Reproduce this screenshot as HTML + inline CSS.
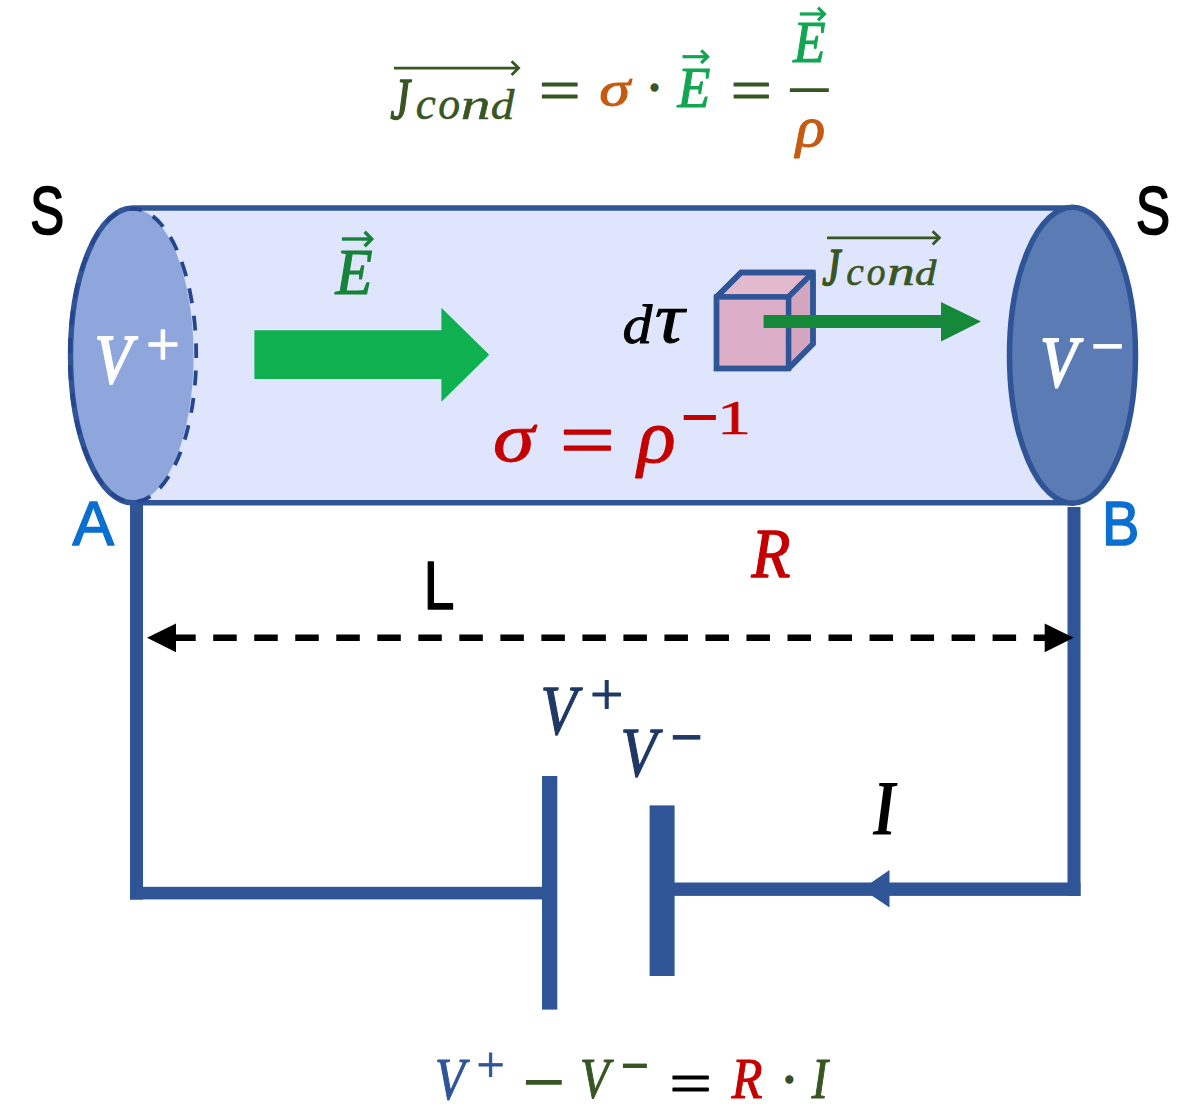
<!DOCTYPE html>
<html lang="en">
<head>
<meta charset="utf-8">
<title>Conduction current density in a cylindrical conductor</title>
<style>
html,body{margin:0;padding:0;background:#ffffff;}
body{width:1200px;height:1113px;overflow:hidden;}
svg{display:block;}
.ser{font-family:"Liberation Serif","DejaVu Serif",serif;}
.san{font-family:"Liberation Sans","DejaVu Sans",sans-serif;}
</style>
</head>
<body>
<svg width="1200" height="1113" viewBox="0 0 1200 1113">
<rect x="0" y="0" width="1200" height="1113" fill="#ffffff"/>
<!-- ===== cylinder ===== -->
<g id="cylinder">
  <rect x="132" y="208" width="941" height="295" fill="#dfe5fc"/>
  <!-- left cap (V+) -->
  <ellipse cx="132" cy="355.4" rx="61.6" ry="147" fill="#8fa6dc"/>
  <!-- can outline: top generatrix, left rim, bottom generatrix -->
  <path d="M1075 208 H132.5 A62 147.4 0 0 0 132.5 502.8 H1075" fill="none" stroke="#2f5597" stroke-width="5.4"/>
  <!-- hidden (dashed) rim of the left cap -->
  <path d="M133 208.8 A63.2 146.6 0 0 1 133 502 A63.2 146.6 0 0 1 133 208.8" fill="none" stroke="#25468e" stroke-width="3.8" stroke-dasharray="14.8 12.7" stroke-dashoffset="-21.5"/>
  <!-- right cap (V-) -->
  <ellipse cx="1072.5" cy="355.2" rx="63" ry="148" fill="#5b7bb5" stroke="#2f5597" stroke-width="5.5"/>
</g>

<!-- ===== circuit wires and battery ===== -->
<g id="wires" fill="#2f5597">
  <rect x="130" y="503" width="13" height="396.6"/>
  <rect x="130" y="886.8" width="414" height="12.6"/>
  <rect x="1067.5" y="507" width="13" height="388.9"/>
  <rect x="672" y="882.5" width="408.5" height="13.4"/>
  <polygon points="862,889 889.5,870 889.5,907.5"/>
  <rect x="542" y="776" width="15.3" height="233.6"/>
  <rect x="649.6" y="805.4" width="25" height="170.6"/>
</g>

<!-- ===== dashed length arrow L ===== -->
<g id="lenarrow">
  <line x1="172.2" y1="637.8" x2="1050" y2="637.8" stroke="#000" stroke-width="6.4" stroke-dasharray="23.5 17.52"/>
  <polygon points="147,637.8 176,623.5 176,652.2" fill="#000"/>
  <polygon points="1073.7,637.8 1044.7,623.5 1044.7,652.2" fill="#000"/>
</g>

<!-- ===== big E field arrow ===== -->
<polygon points="254.4,330.3 441.4,330.3 441.4,307.7 489.2,354.7 441.4,401.8 441.4,379.1 254.4,379.1" fill="#0eb050"/>

<!-- ===== volume element cube ===== -->
<g id="cube" stroke="#2f5597" stroke-width="5.4" stroke-linejoin="miter" stroke-miterlimit="1.5">
  <polygon points="716.5,297 741,272.5 813,272.5 788.5,297" fill="#e3b9ce"/>
  <polygon points="788.5,297 813,272.5 813,344 788.5,368.5" fill="#d3a5bf"/>
  <rect x="716.5" y="297" width="72" height="71.5" fill="#dcaec7"/>
  <polygon points="716.5,297 741,272.5 813,272.5 813,344 788.5,368.5 716.5,368.5" fill="none" stroke-miterlimit="4"/>
</g>

<!-- ===== J current-density arrow ===== -->
<polygon points="763.6,315 941,315 941,302 981,321.6 941,341.6 941,328 763.6,328" fill="#16883a"/>

<!-- ===== vector over-arrows and fraction bar ===== -->
<g id="overarrows" fill="none" stroke-width="2.8" stroke-linecap="butt" stroke-linejoin="miter">
  <g stroke="#375623">
    <path d="M394 68.1 H518"/><path d="M511.6 61.2 L518.6 68.1 L511.6 75"/>
    <path d="M827 237.8 H939"/><path d="M932.6 231.2 L939.4 237.8 L932.6 244.4"/>
    <path d="M789.9 90.1 H828.8" stroke-width="3.8"/>
  </g>
  <g stroke="#12a652" stroke-width="3.2">
    <path d="M682.5 56.7 H707.5"/><path d="M701.2 50.4 L707.6 56.7 L701.2 63"/>
    <path d="M799.8 14 H824.3"/><path d="M818 7.7 L824.4 14 L818 20.3"/>
  </g>
  <g stroke="#17833a" stroke-width="3.4">
    <path d="M341.9 239 H371.5"/><path d="M364.6 231.7 L371.7 239 L364.6 246.3"/>
  </g>
</g>

<!-- ===== text labels (real text, fitted with transforms) ===== -->
<g id="labels">
<text id="t_J" class="ser" transform="matrix(0.4419 0 0 0.5826 390.15 118.94)" font-size="100" font-style="italic" font-weight="normal" fill="#375623" stroke="#375623" stroke-width="2.54" stroke-linejoin="round">J</text>
<text id="t_eq1" class="ser" transform="matrix(0.7428 0 0 0.6074 538.73 111.05)" font-size="100" font-style="normal" font-weight="normal" fill="#375623" stroke="#375623" stroke-width="1.67" stroke-linejoin="round">=</text>
<text id="t_sig1" class="ser" transform="matrix(0.6253 0 0 0.5074 599.35 105.85)" font-size="100" font-style="italic" font-weight="normal" fill="#c55a11" stroke="#c55a11" stroke-width="1.77" stroke-linejoin="round">σ</text>
<text id="t_dot1" class="ser" transform="matrix(0.4050 0 0 0.4169 647.70 101.83)" font-size="100" font-style="normal" font-weight="bold" fill="#375623" stroke="#375623" stroke-width="3.65" stroke-linejoin="round">·</text>
<text id="t_E1" class="ser" transform="matrix(0.5374 0 0 0.5808 677.57 107.22)" font-size="100" font-style="italic" font-weight="normal" fill="#12a652" stroke="#12a652" stroke-width="1.97" stroke-linejoin="round">E</text>
<text id="t_eq2" class="ser" transform="matrix(0.7345 0 0 0.6111 730.56 111.02)" font-size="100" font-style="normal" font-weight="normal" fill="#375623" stroke="#375623" stroke-width="1.67" stroke-linejoin="round">=</text>
<text id="t_E2" class="ser" transform="matrix(0.5278 0 0 0.5911 793.16 62.31)" font-size="100" font-style="italic" font-weight="normal" fill="#12a652" stroke="#12a652" stroke-width="1.97" stroke-linejoin="round">E</text>
<text id="t_rho1" class="ser" transform="matrix(0.6143 0 0 0.5729 795.75 145.51)" font-size="100" font-style="italic" font-weight="normal" fill="#c55a11" stroke="#c55a11" stroke-width="1.68" stroke-linejoin="round">ρ</text>
<text id="S_l" class="san" transform="matrix(0.5150 0 0 0.6904 30.08 234.02)" font-size="100" font-style="normal" font-weight="normal" fill="#000000" stroke="#000000" stroke-width="2.32" stroke-linejoin="round">S</text>
<text id="S_r" class="san" transform="matrix(0.5167 0 0 0.6904 1135.78 234.02)" font-size="100" font-style="normal" font-weight="normal" fill="#000000" stroke="#000000" stroke-width="2.32" stroke-linejoin="round">S</text>
<text id="Vp_w" class="ser" transform="matrix(0.6044 0 0 0.7043 94.78 383.39)" font-size="100" font-style="italic" font-weight="normal" fill="#ffffff" stroke="#ffffff" stroke-width="3.06" stroke-linejoin="round">V</text>
<text id="pl_w" class="ser" transform="matrix(0.5918 0 0 0.6020 146.33 364.72)" font-size="100" font-style="normal" font-weight="normal" fill="#ffffff" stroke="#ffffff" stroke-width="2.51" stroke-linejoin="round">+</text>
<text id="Vm_w" class="ser" transform="matrix(0.6044 0 0 0.7171 1040.28 385.85)" font-size="100" font-style="italic" font-weight="normal" fill="#ffffff" stroke="#ffffff" stroke-width="3.03" stroke-linejoin="round">V</text>
<text id="mi_w" class="ser" transform="matrix(0.6107 0 0 0.9200 1090.45 377.21)" font-size="100" font-style="normal" font-weight="normal" fill="#ffffff">−</text>
<text id="E_c" class="ser" transform="matrix(0.6064 0 0 0.6520 335.61 293.75)" font-size="100" font-style="italic" font-weight="normal" fill="#17833a" stroke="#17833a" stroke-width="1.91" stroke-linejoin="round">E</text>
<text id="d_" class="ser" transform="matrix(0.5959 0 0 0.5417 622.61 343.10)" font-size="100" font-style="italic" font-weight="normal" fill="#000000" stroke="#000000" stroke-width="1.58" stroke-linejoin="round">d</text>
<text id="tau" class="ser" transform="matrix(0.8230 0 0 0.7159 654.63 342.41)" font-size="100" font-style="italic" font-weight="normal" fill="#000000" stroke="#000000" stroke-width="1.17" stroke-linejoin="round">τ</text>
<text id="c_J" class="ser" transform="matrix(0.4060 0 0 0.5325 822.30 284.88)" font-size="100" font-style="italic" font-weight="normal" fill="#375623" stroke="#375623" stroke-width="3.20" stroke-linejoin="round">J</text>
<text id="sig2" class="ser" transform="matrix(0.8388 0 0 0.6944 493.04 461.34)" font-size="100" font-style="italic" font-weight="normal" fill="#c40000" stroke="#c40000" stroke-width="1.30" stroke-linejoin="round">σ</text>
<text id="eq3" class="ser" transform="matrix(0.9786 0 0 0.7778 559.79 465.80)" font-size="100" font-style="normal" font-weight="normal" fill="#c40000" stroke="#c40000" stroke-width="1.67" stroke-linejoin="round">=</text>
<text id="rho2" class="ser" transform="matrix(0.7952 0 0 0.7565 637.39 462.06)" font-size="100" font-style="italic" font-weight="normal" fill="#c40000" stroke="#c40000" stroke-width="1.29" stroke-linejoin="round">ρ</text>
<text id="min2" class="ser" transform="matrix(0.6921 0 0 1.0000 680.24 451.27)" font-size="100" font-style="normal" font-weight="normal" fill="#c40000">−</text>
<text id="one" class="ser" transform="matrix(0.6818 0 0 0.4827 717.05 434.18)" font-size="100" font-style="normal" font-weight="normal" fill="#c40000" stroke="#c40000" stroke-width="1.37" stroke-linejoin="round">1</text>
<text id="A" class="san" transform="matrix(0.6233 0 0 0.6379 72.62 544.65)" font-size="100" font-style="normal" font-weight="normal" fill="#0a6fd0" stroke="#0a6fd0" stroke-width="2.38" stroke-linejoin="round">A</text>
<text id="B" class="san" transform="matrix(0.5605 0 0 0.6280 1102.08 544.66)" font-size="100" font-style="normal" font-weight="normal" fill="#0a6fd0" stroke="#0a6fd0" stroke-width="2.52" stroke-linejoin="round">B</text>
<text id="L" class="san" transform="matrix(0.5504 0 0 0.6855 423.65 608.99)" font-size="100" font-style="normal" font-weight="normal" fill="#000000" stroke="#000000" stroke-width="2.27" stroke-linejoin="round">L</text>
<text id="R" class="ser" transform="matrix(0.6373 0 0 0.7054 751.55 577.29)" font-size="100" font-style="italic" font-weight="normal" fill="#c40000" stroke="#c40000" stroke-width="1.79" stroke-linejoin="round">R</text>
<text id="Vp_b" class="ser" transform="matrix(0.5941 0 0 0.7078 540.43 733.95)" font-size="100" font-style="italic" font-weight="normal" fill="#1f3864" stroke="#1f3864" stroke-width="1.84" stroke-linejoin="round">V</text>
<text id="pl_b" class="ser" transform="matrix(0.5917 0 0 0.5876 590.03 714.29)" font-size="100" font-style="normal" font-weight="normal" fill="#1f3864" stroke="#1f3864" stroke-width="1.70" stroke-linejoin="round">+</text>
<text id="Vm_b" class="ser" transform="matrix(0.5941 0 0 0.6990 620.43 776.37)" font-size="100" font-style="italic" font-weight="normal" fill="#1f3864" stroke="#1f3864" stroke-width="1.86" stroke-linejoin="round">V</text>
<text id="mi_b" class="ser" transform="matrix(0.5914 0 0 0.9200 670.04 768.11)" font-size="100" font-style="normal" font-weight="normal" fill="#1f3864">−</text>
<text id="I" class="ser" transform="matrix(0.5836 0 0 0.7858 873.28 834.20)" font-size="100" font-style="italic" font-weight="bold" fill="#000000">I</text>
<text id="b_V1" class="ser" transform="matrix(0.4901 0 0 0.5825 434.88 1098.64)" font-size="100" font-style="italic" font-weight="normal" fill="#2f5597" stroke="#2f5597" stroke-width="1.86" stroke-linejoin="round">V</text>
<text id="b_pl" class="ser" transform="matrix(0.5000 0 0 0.4966 476.43 1082.47)" font-size="100" font-style="normal" font-weight="normal" fill="#2f5597" stroke="#2f5597" stroke-width="1.61" stroke-linejoin="round">+</text>
<text id="b_mi" class="ser" transform="matrix(0.7714 0 0 0.9200 522.14 1112.91)" font-size="100" font-style="normal" font-weight="normal" fill="#375623">−</text>
<text id="b_V2" class="ser" transform="matrix(0.4752 0 0 0.5797 579.94 1098.45)" font-size="100" font-style="italic" font-weight="normal" fill="#375623" stroke="#375623" stroke-width="1.90" stroke-linejoin="round">V</text>
<text id="b_ms" class="ser" transform="matrix(0.5143 0 0 0.8800 620.43 1095.19)" font-size="100" font-style="normal" font-weight="normal" fill="#375623">−</text>
<text id="b_eq" class="ser" transform="matrix(0.7572 0 0 0.5926 669.37 1102.65)" font-size="100" font-style="normal" font-weight="normal" fill="#000000" stroke="#000000" stroke-width="1.67" stroke-linejoin="round">=</text>
<text id="b_R" class="ser" transform="matrix(0.5027 0 0 0.5792 731.67 1098.42)" font-size="100" font-style="italic" font-weight="normal" fill="#c40000" stroke="#c40000" stroke-width="1.85" stroke-linejoin="round">R</text>
<text id="b_dot" class="ser" transform="matrix(0.4100 0 0 0.4169 782.47 1093.63)" font-size="100" font-style="normal" font-weight="bold" fill="#3a4a2a" stroke="#3a4a2a" stroke-width="3.63" stroke-linejoin="round">·</text>
<text id="b_I" class="ser" transform="matrix(0.4831 0 0 0.5792 811.64 1098.42)" font-size="100" font-style="italic" font-weight="normal" fill="#375623" stroke="#375623" stroke-width="1.88" stroke-linejoin="round">I</text>
<text id="t_cond" class="ser" font-style="italic" fill="#375623" stroke="#375623" stroke-width="0.5" stroke-linejoin="round"><tspan x="415.80" y="118.94" font-size="45.41" textLength="20.03" lengthAdjust="spacingAndGlyphs">c</tspan><tspan x="438.13" y="119.14" font-size="46.12" textLength="21.90" lengthAdjust="spacingAndGlyphs">o</tspan><tspan x="460.71" y="119.05" font-size="45.31" textLength="29.83" lengthAdjust="spacingAndGlyphs">n</tspan><tspan x="490.74" y="118.96" font-size="41.30" textLength="23.64" lengthAdjust="spacingAndGlyphs">d</tspan></text>
<text id="c_cond" class="ser" font-style="italic" fill="#375623" stroke="#375623" stroke-width="0.6" stroke-linejoin="round"><tspan x="846.18" y="285.05" font-size="39.06" textLength="17.58" lengthAdjust="spacingAndGlyphs">c</tspan><tspan x="866.66" y="285.05" font-size="39.06" textLength="18.81" lengthAdjust="spacingAndGlyphs">o</tspan><tspan x="887.35" y="285.39" font-size="39.72" textLength="27.56" lengthAdjust="spacingAndGlyphs">n</tspan><tspan x="914.91" y="285.06" font-size="35.42" textLength="21.36" lengthAdjust="spacingAndGlyphs">d</tspan></text>
</g>
</svg>
</body>
</html>
